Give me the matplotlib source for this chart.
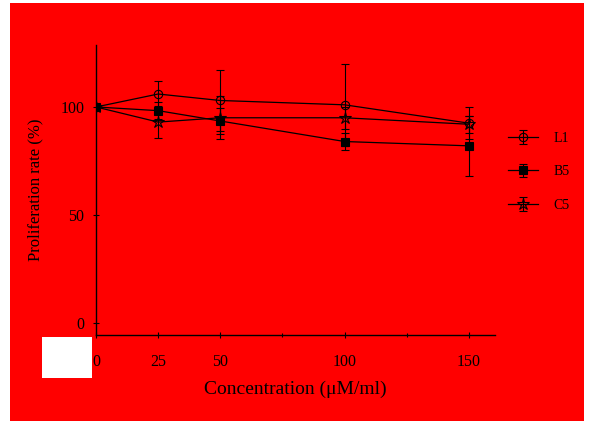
import matplotlib
matplotlib.use("Agg")
import matplotlib.pyplot as plt
from matplotlib.patches import Rectangle

concentrations = [0, 25, 50, 100, 150]
x_tick_labels = ["0", "25", "50", "100", "150"]
y_ticks = [0, 50, 100]
y_tick_labels = ["0", "50", "100"]
series_names = ["L1", "B5", "C5"]
circle_vals = [100, 106, 103, 101, 92.5]
circle_err = [1, 6, 14, 19, 7.5]
square_vals = [100, 98.3, 93.5, 84, 82]
square_err = [1, 4, 6, 4, 14]
star_vals = [100, 93, 95, 95, 92]
star_err = [1, 7.5, 10, 5, 4]

W, H = 589, 423
fig = plt.figure(figsize=(W / 100, H / 100), dpi=100)
fig.patch.set_facecolor("white")
fig.patches.append(Rectangle((10 / W, 1 - 421 / H), (584 - 10) / W, (421 - 3) / H,
                             transform=fig.transFigure, facecolor="#ff0000",
                             edgecolor="none", zorder=0))

ax = fig.add_axes([96 / W, 1 - 335 / H, (495 - 96) / W, (335 - 45) / H])
ax.set_facecolor("none")
ax.set_zorder(2)

font = "Liberation Serif"
styles = [("o", "none", 6, circle_vals, circle_err),
          ("s", "black", 6, square_vals, square_err),
          ("*", "none", 9, star_vals, star_err)]
for name, (m, fc, ms, vals, err) in zip(series_names, styles):
    ax.errorbar(concentrations, vals, yerr=err, color="black", lw=0.9,
                marker=m, markersize=ms, markerfacecolor=fc,
                markeredgecolor="black", markeredgewidth=0.8,
                capsize=3, elinewidth=0.8, capthick=0.8, label=name)

ax.set_xlim(0, 160.5)
ax.set_ylim(-5.6, 128.7)
ax.set_xticks(concentrations)
ax.set_xticklabels(x_tick_labels, fontfamily=font, fontsize=11.5)
ax.set_xticks([75, 125], minor=True)
ax.set_yticks(y_ticks)
ax.set_yticklabels(y_tick_labels, fontfamily=font, fontsize=11.5)
ax.tick_params(direction="inout", length=5, width=0.8)
ax.tick_params(axis="x", pad=11)
ax.tick_params(axis="y", pad=6)
ax.tick_params(which="minor", direction="inout", length=3, width=0.8)
for s in ["top", "right"]:
    ax.spines[s].set_visible(False)
for s in ["left", "bottom"]:
    ax.spines[s].set_linewidth(1.0)

ax.set_xlabel("Concentration (μM/ml)", fontfamily=font, fontsize=14, labelpad=8)
ax.set_ylabel("Proliferation rate (%)", fontfamily=font, fontsize=12, labelpad=12)

leg = fig.legend(loc="upper left", bbox_to_anchor=(495 / W, 1 - 119 / H),
                 frameon=False, prop={"family": font, "size": 10},
                 labelspacing=1.5, handlelength=2.2, handletextpad=1.1)

fig.patches.append(Rectangle((42 / W, 1 - 378 / H), 50 / W, 41 / H,
                             transform=fig.transFigure, facecolor="white",
                             edgecolor="none", zorder=5))

fig.savefig("out.png", dpi=100, facecolor=fig.get_facecolor())
